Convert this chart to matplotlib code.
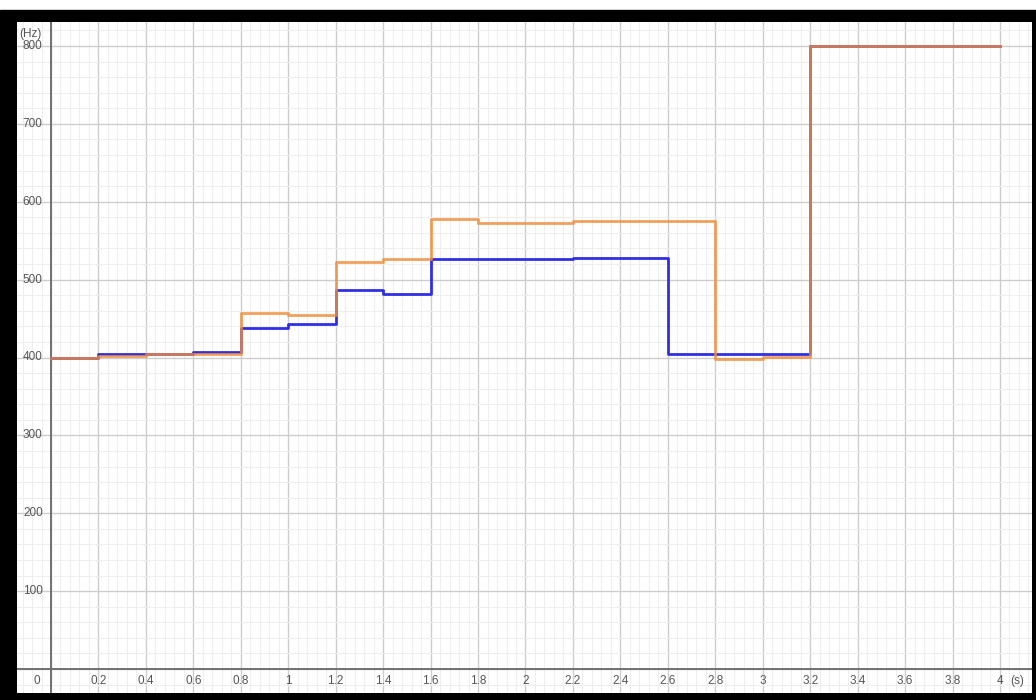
import matplotlib.pyplot as plt
from matplotlib.patches import Rectangle
from matplotlib.ticker import MultipleLocator

# step boundaries (s) and the frequency held on each interval (Hz)
t_edges = [0.0, 0.2, 0.4, 0.6, 0.8, 1.0, 1.2, 1.4, 1.6, 1.8, 2.0, 2.2, 2.4,
           2.6, 2.8, 3.0, 3.2, 4.0]
blue_hz = [400, 404, 405, 407, 438, 443, 487, 482, 526, 527, 527, 528, 528,
           405, 405, 405, 800]
orange_hz = [400, 402, 405, 404, 457, 454, 523, 526, 578, 573, 573, 575, 575,
             575, 398, 401, 800]

x_ticks = [0.2, 0.4, 0.6, 0.8, 1, 1.2, 1.4, 1.6, 1.8, 2, 2.2, 2.4, 2.6, 2.8,
           3, 3.2, 3.4, 3.6, 3.8, 4]
y_ticks = [100, 200, 300, 400, 500, 600, 700, 800]

plt.rcParams['font.family'] = ['Liberation Sans', 'DejaVu Sans']

fig = plt.figure(figsize=(10.36, 7.0), dpi=100)
# black frame behind the plot area
fig.patches.append(Rectangle((0, 0), 1, 690 / 700, transform=fig.transFigure,
                             color='black', zorder=-10))

ax = fig.add_axes([17 / 1036, 7 / 700, 1015 / 1036, 671 / 700])
ax.set_zorder(1)
ax.set_facecolor('white')
ax.set_xlim(-0.1433, 4.135)
ax.set_ylim(-30.8, 830.8)
for s in ax.spines.values():
    s.set_visible(False)

ax.xaxis.set_major_locator(MultipleLocator(0.2))
ax.xaxis.set_minor_locator(MultipleLocator(0.04))
ax.yaxis.set_major_locator(MultipleLocator(100))
ax.yaxis.set_minor_locator(MultipleLocator(20))
ax.grid(which='major', color='#cdcdcd', lw=1.0)
ax.grid(which='minor', color='#eeeeee', lw=0.8)
ax.tick_params(which='both', length=0, labelbottom=False, labelleft=False)
ax.set_axisbelow(True)

ax.axhline(0, color='#707070', lw=1.4)
ax.axvline(0, color='#707070', lw=1.4)

lbl = dict(fontsize=8.5, color='#555555')
for v in x_ticks:
    ax.text(v, -15, f'{v:g}', ha='center', va='center', **lbl)
ax.text(-0.045, -15, '0', ha='right', va='center', **lbl)
ax.text(4.045, -15, '(s)', ha='left', va='center', **lbl)
for v in y_ticks:
    ax.text(-0.035, v, f'{v:g}', ha='right', va='center', **lbl)
ax.text(-0.135, 816, '(Hz)', ha='left', va='center', **lbl)

# orange is semi-transparent so shared stretches come out brownish
ax.step(t_edges, blue_hz + [blue_hz[-1]], where='post', color='#2f2fe6', lw=2.0)
ax.step(t_edges, orange_hz + [orange_hz[-1]], where='post', color='#ef8c3a',
        lw=2.0, alpha=0.82)

fig.savefig('out.png', dpi=100, facecolor='white')
